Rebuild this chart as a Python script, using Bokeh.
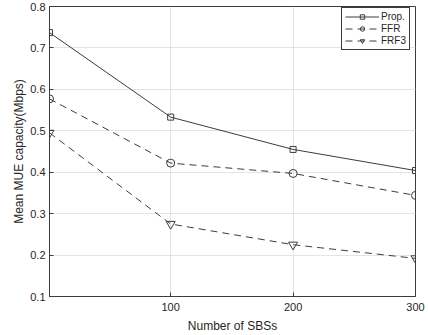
from bokeh.plotting import figure
from bokeh.models import FixedTicker, Range1d, Legend
from bokeh.embed import file_html
from bokeh.resources import INLINE

sbs = [1, 100, 200, 300]
prop = [0.737, 0.533, 0.455, 0.404]
ffr = [0.577, 0.422, 0.397, 0.344]
frf3 = [0.495, 0.275, 0.225, 0.192]
x_ticks = [100, 200, 300]
y_ticks = [0.1, 0.2, 0.3, 0.4, 0.5, 0.6, 0.7, 0.8]

FONT = "Liberation Sans"
INK = "#262626"
LINE = "#3c3c3c"

p = figure(frame_width=366, frame_height=290, output_backend="svg", toolbar_location=None,
           x_range=Range1d(1, 300), y_range=Range1d(0.1, 0.8),
           min_border_left=49, min_border_right=12, min_border_top=6, min_border_bottom=37)

p.xaxis.ticker = FixedTicker(ticks=x_ticks)
p.yaxis.ticker = FixedTicker(ticks=y_ticks)
p.yaxis.formatter.use_scientific = False
for ax in (p.xaxis[0], p.yaxis[0]):
    ax.major_tick_in = 4
    ax.major_tick_out = 0
    ax.minor_tick_line_color = None
    ax.axis_line_color = LINE
    ax.major_tick_line_color = LINE
    ax.major_label_text_font = FONT
    ax.major_label_text_font_size = "11px"
    ax.major_label_text_color = INK
    ax.axis_label_text_font = FONT
    ax.axis_label_text_font_size = "12px"
    ax.axis_label_text_font_style = "normal"
    ax.axis_label_text_color = INK
p.xaxis.axis_label = "Number of SBSs"
p.yaxis.axis_label = "Mean MUE capacity(Mbps)"
p.xaxis.axis_label_standoff = 5
p.yaxis.axis_label_standoff = 1
p.xaxis.major_label_standoff = 6
p.yaxis.major_label_standoff = 4

p.xgrid.grid_line_color = "#e4e4e4"
p.ygrid.grid_line_color = "#e4e4e4"
p.outline_line_color = LINE
p.outline_line_alpha = 1

r1 = p.line(sbs, prop, line_color=LINE, line_width=1)
m1 = p.scatter(sbs, prop, marker="square", size=6, fill_color=None, line_color=LINE)
r2 = p.line(sbs, ffr, line_color=LINE, line_width=1, line_dash="7 5")
m2 = p.scatter(sbs, ffr, marker="circle", size=8, fill_color=None, line_color=LINE)
r3 = p.line(sbs, frf3, line_color=LINE, line_width=1, line_dash="7 5")
m3 = p.scatter(sbs, frf3, marker="inverted_triangle", size=9, fill_color=None, line_color=LINE)

legend = Legend(items=[("Prop.", [r1, m1]), ("FFR", [r2, m2]), ("FRF3", [r3, m3])],
                location=(292, 246))
legend.label_text_font = FONT
legend.label_text_font_size = "10px"
legend.label_text_color = INK
legend.glyph_width = 34
legend.glyph_height = 11
legend.label_height = 11
legend.spacing = 1
legend.padding = 3
legend.margin = 0
legend.label_standoff = 2
legend.border_line_color = LINE
legend.border_line_alpha = 1
legend.background_fill_alpha = 1
p.add_layout(legend)

open("out.html", "w").write(file_html(p, INLINE))
